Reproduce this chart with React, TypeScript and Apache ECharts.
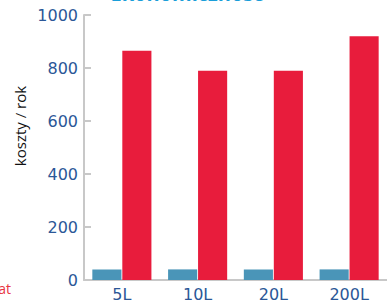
import React, { useEffect, useRef } from "react";
import * as echarts from "echarts";

const categories = ["5L", "10L", "20L", "200L"];
const blueValues = [40, 40, 40, 40];
const redValues = [865, 790, 790, 920];
const yTicks = { min: 0, max: 1000, interval: 200 };

export default function App() {
  const ref = useRef<HTMLDivElement>(null);
  useEffect(() => {
    const chart = echarts.init(ref.current!, null, { renderer: "svg" });
    chart.setOption({
      animation: false,
      grid: { left: 84, top: 15, bottom: 18, right: -9, containLabel: false },
      xAxis: {
        type: "category",
        data: categories,
        axisLine: { lineStyle: { color: "#c8c8c8", width: 2 } },
        axisTick: { inside: true, length: 7, lineStyle: { color: "#c8c8c8", width: 2 } },
        axisLabel: { color: "#2b5797", fontSize: 16, fontFamily: "DejaVu Sans", margin: 6 },
      },
      yAxis: {
        type: "value",
        min: yTicks.min,
        max: yTicks.max,
        interval: yTicks.interval,
        splitLine: { show: false },
        axisLine: { show: true, lineStyle: { color: "#c8c8c8", width: 2 } },
        axisTick: { show: true, inside: true, length: 7, lineStyle: { color: "#c8c8c8", width: 2 } },
        axisLabel: {
          color: "#2b5797",
          fontSize: 16,
          fontFamily: "DejaVu Sans",
          margin: 6,
          formatter: (v: number) => String(v),
        },
      },
      series: [
        {
          type: "bar",
          data: blueValues,
          itemStyle: { color: "#4a95b8" },
          barGap: "3%",
          barCategoryGap: "22%",
        },
        {
          type: "bar",
          data: redValues,
          itemStyle: { color: "#e81c3c" },
          barGap: "3%",
          barCategoryGap: "22%",
        },
      ],
      graphic: [
        {
          type: "text",
          x: 187,
          y: -7,
          style: {
            text: "Ekonomiczność",
            fill: "#1a9ed9",
            font: "bold 20px 'Open Sans'",
            align: "center",
            verticalAlign: "middle",
          },
        },
        {
          type: "text",
          x: 20,
          y: 126,
          rotation: Math.PI / 2,
          style: {
            text: "koszty / rok",
            fill: "#111",
            font: "15px 'Open Sans'",
            align: "center",
            verticalAlign: "middle",
          },
        },
        {
          type: "text",
          x: 11,
          y: 288,
          style: {
            text: "at",
            fill: "#e8343f",
            font: "14px 'Open Sans'",
            align: "right",
            verticalAlign: "middle",
          },
        },
      ],
    });
    return () => chart.dispose();
  }, []);
  return <div ref={ref} style={{ width: 387, height: 302, position: "absolute", left: 0, top: 0 }} />;
}
